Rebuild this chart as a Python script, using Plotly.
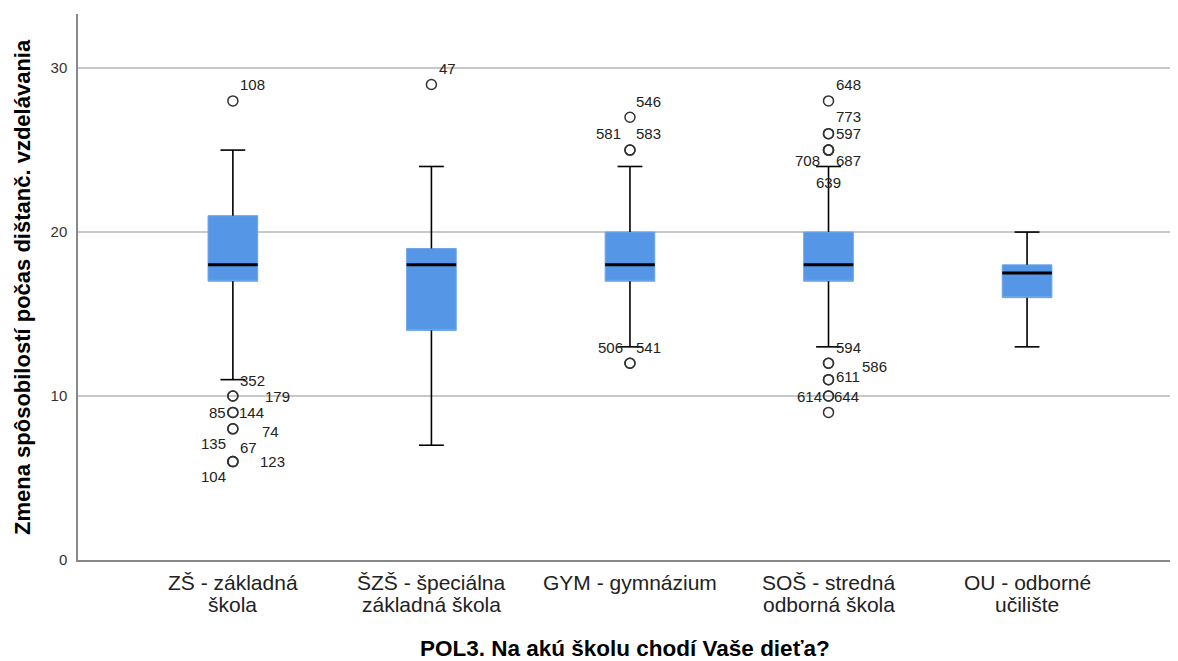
import plotly.graph_objects as go

# ---- data ----
categories = ["ZŠ - základná\nškola", "ŠZŠ - špeciálna\nzákladná škola",
              "GYM - gymnázium", "SOŠ - stredná\nodborná škola", "OU - odborné\nučilište"]
q1 = [17, 14, 17, 17, 16]
median = [18, 18, 18, 18, 17.5]
q3 = [21, 19, 20, 20, 18]
lower_whisker = [11, 7, 13, 13, 13]
upper_whisker = [25, 24, 24, 24, 20]

# outliers: (category index, value, case label)
outlier_group = [0, 0, 0, 0, 0, 0, 0, 0, 0, 0,
                 1,
                 2, 2, 2, 2, 2,
                 3, 3, 3, 3, 3, 3, 3, 3, 3, 3, 3, 3, 3]
outlier_value = [28, 10, 10, 9, 9, 8, 8, 6, 6, 6,
                 29,
                 27, 25, 25, 12, 12,
                 28, 26, 26, 25, 25, 25, 12, 12, 11, 10, 10, 9, 11]
outlier_case = ["108", "352", "179", "85", "144", "74", "135", "67", "123", "104",
                "47",
                "546", "581", "583", "506", "541",
                "648", "773", "597", "708", "687", "639", "594", "586", "611", "614", "644", "", ""]

# label placement styles (anchor, xshift px, yshift px), one per outlier
label_style = [("left", 5, 16), ("left", 5, 16), ("left", 30, 0), ("right", -5, 0), ("left", 4, 0),
               ("left", 27, -3), ("right", -5, -15), ("left", 5, 14), ("left", 25, 0), ("right", -5, -15),
               ("left", 6, 16),
               ("left", 4, 16), ("right", -7, 17), ("left", 4, 17), ("right", -5, 16), ("left", 4, 16),
               ("left", 5, 16), ("left", 5, 17), ("left", 5, 0), ("right", -7, -10), ("left", 5, -10),
               ("center", 0, -32), ("left", 5, 16), ("left", 31, -3), ("left", 5, 3), ("right", -5, 0),
               ("left", 3, 0), ("left", 0, 0), ("left", 0, 0)]

y_ticks = [0, 10, 20, 30]
y_title = "Zmena spôsobilostí počas dištanč. vzdelávania"
x_title = "POL3. Na akú školu chodí Vaše dieťa?"

# ---- styles ----
FONT = "Liberation Sans, Arial, sans-serif"
BOX_FILL = "rgb(85,150,230)"
BOX_LINE = "rgb(110,165,235)"
BOX_W = 0.25
CAP_W = 0.125
pos = list(range(len(categories)))

fig = go.Figure()

for i in pos:
    fig.add_trace(go.Box(
        x=[i], q1=[q1[i]], median=[q1[i]], q3=[q3[i]],
        lowerfence=[q1[i]], upperfence=[q3[i]],
        width=BOX_W, fillcolor=BOX_FILL,
        line=dict(color=BOX_LINE, width=1),
        whiskerwidth=0, boxpoints=False, showlegend=False, hoverinfo="skip"))

# whiskers
wx, wy = [], []
for i in pos:
    wx += [i, i, None, i, i, None,
           i - CAP_W / 2, i + CAP_W / 2, None, i - CAP_W / 2, i + CAP_W / 2, None]
    wy += [q3[i], upper_whisker[i], None, q1[i], lower_whisker[i], None,
           upper_whisker[i], upper_whisker[i], None, lower_whisker[i], lower_whisker[i], None]
fig.add_trace(go.Scatter(x=wx, y=wy, mode="lines", line=dict(color="black", width=1.6),
                         showlegend=False, hoverinfo="skip"))

# medians
mx, my = [], []
for i in pos:
    mx += [i - BOX_W / 2, i + BOX_W / 2, None]
    my += [median[i], median[i], None]
fig.add_trace(go.Scatter(x=mx, y=my, mode="lines", line=dict(color="black", width=3),
                         showlegend=False, hoverinfo="skip"))

# outliers
fig.add_trace(go.Scatter(x=outlier_group, y=outlier_value, mode="markers",
                         marker=dict(symbol="circle-open", size=10, color="#333333",
                                     line=dict(width=1.5, color="#333333")),
                         showlegend=False, hoverinfo="skip"))

for g, v, c, (anc, xs, ys) in zip(outlier_group, outlier_value, outlier_case, label_style):
    if not c:
        continue
    fig.add_annotation(x=g, y=v, xref="x", yref="y", text=c, showarrow=False,
                       xanchor=anc, yanchor="middle", xshift=xs, yshift=ys,
                       font=dict(family=FONT, size=15, color="#222222"))

# category labels (two lines, tight spacing)
for i, cat in zip(pos, categories):
    for k, line in enumerate(cat.split("\n")):
        fig.add_annotation(x=i, y=-0.0421 - k * 0.0403, xref="x", yref="paper", text=line,
                           showarrow=False, xanchor="center", yanchor="middle",
                           font=dict(family=FONT, size=21, color="#222222"))

fig.add_annotation(x=-0.0512, y=0.5, xref="paper", yref="paper", text=y_title,
                   textangle=-90, showarrow=False, xanchor="center", yanchor="middle",
                   font=dict(family=FONT, size=22, color="black", weight="bold"))
fig.add_annotation(x=0.5, y=-0.163, xref="paper", yref="paper", text=x_title,
                   showarrow=False, xanchor="center", yanchor="middle",
                   font=dict(family=FONT, size=22.5, color="black", weight="bold"))

# page body has an 8px margin, so the figure is shifted by 8px
fig.update_layout(
    width=1170, height=653,
    margin=dict(l=70, r=6, t=6, b=101),
    paper_bgcolor="white", plot_bgcolor="white",
    boxmode="overlay",
    font=dict(family=FONT, color="#333333"),
    xaxis=dict(range=[-0.78, 4.73], tickvals=pos, showticklabels=False,
               showgrid=False, zeroline=False, showline=True, linecolor="#888888", linewidth=1.5,
               ticks=""),
    yaxis=dict(range=[0, 33.3], tickvals=y_ticks, showgrid=True, gridcolor="#c8c8c8", gridwidth=1.5,
               zeroline=False, showline=True, linecolor="#888888", linewidth=1.5,
               ticks="", ticklabelstandoff=6, tickfont=dict(size=15, color="#333333")),
)

fig.write_html("out.html")
